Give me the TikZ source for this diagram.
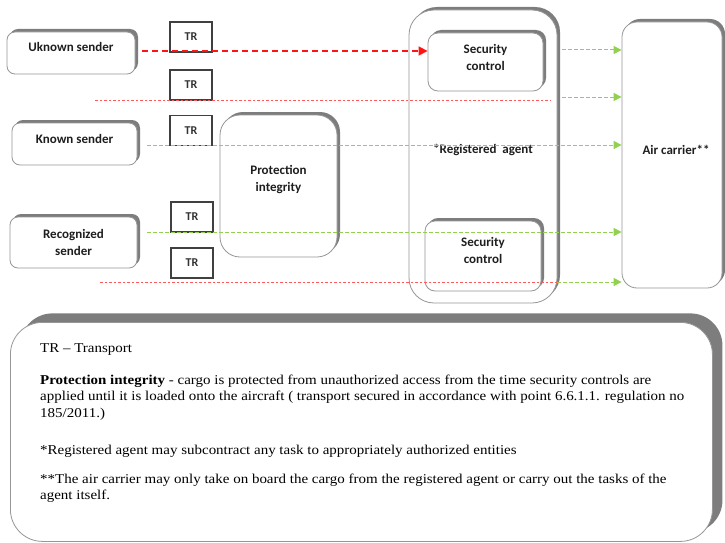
\documentclass[tikz,border=0pt]{standalone}
\usepackage{fontspec}
\setmainfont{Liberation Serif}
\newfontfamily\calib{Carlito}
\newfontfamily\legfont[FakeStretch=1.11,Ligatures=TeX]{Liberation Serif}
\usetikzlibrary{shadows,arrows.meta}
\definecolor{boxgray}{RGB}{150,150,150}
\definecolor{shgray}{RGB}{125,125,125}
\definecolor{agreen}{RGB}{146,208,80}
\definecolor{ared}{RGB}{255,20,20}
\definecolor{lred}{RGB}{255,90,90}
\definecolor{txt}{RGB}{30,30,30}
\begin{document}
\begin{tikzpicture}[x=1pt,y=-1pt,
  myshadow/.style={drop shadow={shadow xshift=3pt,shadow yshift=3pt,fill=shgray,opacity=1}},
  lab/.style={font=\calib\bfseries\fontsize{13}{17}\selectfont,text=txt,align=center},
  rbox/.style={draw=boxgray,line width=0.8pt,fill=white,rounded corners=#1,myshadow,
     font=\calib\bfseries\fontsize{13}{16}\selectfont,text=txt,align=center,inner sep=0pt},
  rbox/.default=8pt,
  trbox/.style={draw=black!75,line width=1.4pt,fill=white,minimum width=42pt,minimum height=30pt,
     font=\calib\bfseries\fontsize{12}{14}\selectfont,text=black!80,inner sep=0pt},
  gline/.style={agreen,line width=1pt,dash pattern=on 3.5pt off 2.5pt},
  garrow/.style={gline,-{Triangle[length=8pt,width=8pt]}},
  rdot/.style={lred,line width=0.9pt,dash pattern=on 2.5pt off 2pt},
  rdash/.style={ared,line width=1.5pt,dash pattern=on 6pt off 4pt,-{Triangle[length=9pt,width=9pt]}},
  legtext/.style={font=\legfont\fontsize{13.5}{16.5}\selectfont,text=black,align=left,inner sep=0pt},
]
\useasboundingbox (0,0) rectangle (725,543);

% senders
\node[rbox, minimum width=128pt, minimum height=42pt, text depth=13pt] (uk) at (71,53) {Uknown sender};
\node[rbox, minimum width=125pt, minimum height=42pt, text depth=11pt] (kn) at (74.5,144) {Known sender};
\node[rbox, minimum width=127pt, minimum height=51pt] (rec) at (73.5,242.5) {Recognized\\[1pt]sender};

% TR boxes
\node[trbox] (tr1) at (191,37) {TR};
\node[trbox] (tr2) at (191,85) {TR};
\node[trbox] (tr3) at (191,130.5) {TR};
\node[trbox] (tr4) at (192,217) {TR};
\node[trbox] (tr5) at (192,263) {TR};

% protection integrity
\node[rbox=20pt, minimum width=117pt, minimum height=142pt] (pi) at (278.5,186) {};
\node[lab] (pitext) at (278.5,180) {Protection\\integrity};

% registered agent
\node[rbox=25pt, minimum width=148pt, minimum height=293pt] (ra) at (483,156.5) {};
\node[lab] (ratext) at (483,150) {*Registered\ \ agent};
\node[rbox=10pt, minimum width=115pt, minimum height=58pt] (sc1) at (485.5,62) {};
\node[lab] (sc1text) at (485.5,57.5) {Security\\control};
\node[rbox=10pt, minimum width=116pt, minimum height=70pt] (sc2) at (483,256) {};
\node[lab] (sc2text) at (483,250.5) {Security\\control};

% air carrier
\node[rbox=15pt, minimum width=100pt, minimum height=266pt] (ac) at (672,155) {};
\node[lab] (actext) at (676,150) {Air carrier**};

% connector end points
\coordinate (r1s) at (142,51);
\coordinate (r2s) at (95,100);
\coordinate (r2e) at (550,100);
\coordinate (g1s) at (562,50);
\coordinate (g2s) at (562,97);
\coordinate (g3s) at (147,145);
\coordinate (g4s) at (147,232);
\coordinate (r3s) at (100,282);
\coordinate (r3e) at (557,282);

% connectors
\draw[rdash] (r1s) -- (r1s -| sc1.west);
\draw[rdot] (r2s) -- (r2e);
\draw[garrow] (g1s) -- (g1s -| ac.west);
\draw[garrow] (g2s) -- (g2s -| ac.west);
\draw[garrow] (g3s) -- (g3s -| ac.west);
\draw[garrow] (g4s) -- (g4s -| ac.west);
\draw[rdot] (r3s) -- (r3e);
\draw[garrow] (r3e) -- (r3e -| ac.west);

% legend
\node[draw=boxgray,line width=0.8pt,fill=white,rounded corners=32pt,
      drop shadow={shadow xshift=10pt,shadow yshift=9pt,fill=shgray,opacity=1},
      minimum width=702pt,minimum height=219pt,anchor=north west,inner sep=0pt] (legend) at (10,322) {};
\node[legtext,anchor=north west] (legtxt) at (40,343) {%
TR -- Transport\\[15.5pt]
\textbf{Protection integrity} - cargo is protected from unauthorized access from the time security controls are\\
applied until it is loaded onto the aircraft ( transport secured in accordance with point 6.6.1.1. regulation no\\
185/2011.)\\[20.5pt]
*Registered agent may subcontract any task to appropriately authorized entities\\[12.5pt]
**The air carrier may only take on board the cargo from the registered agent or carry out the tasks of the\\
agent itself.};
\end{tikzpicture}
\end{document}
